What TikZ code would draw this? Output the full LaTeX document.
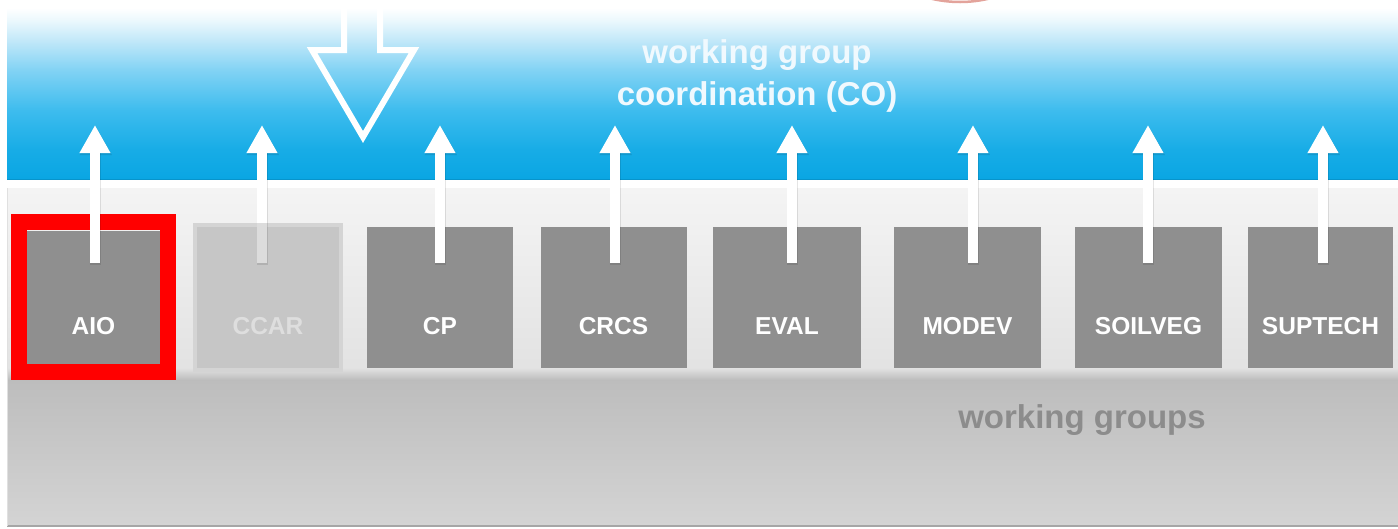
\documentclass[tikz,border=0pt]{standalone}
\usepackage{fontspec}
\setmainfont{Liberation Sans}
\usetikzlibrary{arrows.meta}
\definecolor{bA}{HTML}{0AA6E3}
\definecolor{bB}{HTML}{17ACE6}
\definecolor{bC}{HTML}{3DBCEE}
\definecolor{bD}{HTML}{80D2F4}
\definecolor{bE}{HTML}{C2E8F9}
\definecolor{bF}{HTML}{EBF8FD}
\definecolor{boxgrey}{HTML}{8F8F8F}
\definecolor{ccarfill}{HTML}{C6C6C6}
\definecolor{ccarline}{HTML}{D4D4D4}
\definecolor{ccartext}{HTML}{DEDEDE}
\definecolor{ccarshaft}{HTML}{DCDCDC}
\definecolor{lgtop}{HTML}{F4F4F4}
\definecolor{lgbot}{HTML}{E2E2E2}
\definecolor{dgtop}{HTML}{BCBCBC}
\definecolor{dgbot}{HTML}{D4D4D4}
\definecolor{wgtext}{HTML}{8C8C8C}
\definecolor{cotext}{HTML}{F0F9FE}
\definecolor{arcred}{HTML}{E3A39B}
\pgfdeclareverticalshading{bluefade}{100bp}{color(0bp)=(bA); color(25bp)=(bA); color(33bp)=(bB); color(44bp)=(bC); color(55bp)=(bD); color(63.5bp)=(bE); color(69bp)=(bF); color(72.5bp)=(white); color(100bp)=(white)}
\tikzset{
  wgbox/.style={fill=boxgrey, draw=none, minimum width=146pt, minimum height=141pt, inner sep=0pt},
  wglabel/.style={text=white, font=\bfseries\fontsize{24.5}{28}\selectfont, inner sep=0pt},
  uparrow/.style={draw=white, line width=10pt, -{Triangle[length=28pt,width=29pt]}},
  upshadow/.style={draw=black, opacity=0.10, line width=11pt, -{Triangle[length=29pt,width=30pt]}},
}
\begin{document}
\begin{tikzpicture}[x=1pt,y=-1pt]
\useasboundingbox (0,0) rectangle (1398,528);
\fill[white] (0,0) rectangle (1398,528);
% blue band
\shade[shading=bluefade] (7,-1) rectangle (1399,179);
\draw[color=bA!70!black, opacity=0.35, line width=1pt] (7,179) -- (1399,179);
% faint red arc at top
\begin{scope}
\clip (0,0) rectangle (1398,528);
\draw[arcred, line width=2.5pt] (960,-122) circle (124);
\end{scope}
% light grey band
\shade[top color=lgtop, bottom color=lgbot] (7,188) rectangle (1399,374);
% dark grey band
\shade[top color=dgtop, bottom color=dgbot] (7,374) rectangle (1399,526);
\shade[top color=lgbot, bottom color=dgtop] (7,368) rectangle (1399,380);
\draw[color=black!35, line width=1.5pt] (7,526) -- (1399,526);
\draw[color=black!12, line width=1.5pt] (7.5,188) -- (7.5,526);
% big down arrow (outline)
\draw[white, line width=6pt, line join=miter] (344,-10) -- (344,50) -- (312,50) -- (363,137) -- (414,50) -- (380,50) -- (380,-10);
% coordination text
\node[text=cotext, font=\bfseries\fontsize{33}{42}\selectfont, align=center, inner sep=0pt] (co) at (757,76) {working group\\coordination (CO)};
% working groups label
\node[text=wgtext, font=\bfseries\fontsize{33}{40}\selectfont, inner sep=0pt] (wg) at (1082,420) {working groups};
% boxes
\node[wgbox, minimum width=133pt, minimum height=133pt] (aio) at (93.5,297.5) {};
\node[wgbox, fill=ccarfill, draw=ccarline, line width=4pt, minimum width=146pt, minimum height=145pt] (ccar) at (268,297.5) {};
\node[wgbox] (cp) at (440,297.5) {};
\node[wgbox] (crcs) at (613.5,297.5) {};
\node[wgbox, minimum width=148pt] (eval) at (787,297.5) {};
\node[wgbox, minimum width=147pt] (modev) at (967.5,297.5) {};
\node[wgbox, minimum width=147pt] (soilveg) at (1148.5,297.5) {};
\node[wgbox, minimum width=145pt] (suptech) at (1320.5,297.5) {};
% labels
\node[wglabel] (aio-l) at ([yshift=-28.5pt]aio.center) {AIO};
\node[wglabel, text=ccartext] (ccar-l) at ([yshift=-28.5pt]ccar.center) {CCAR};
\node[wglabel] (cp-l) at ([yshift=-28.5pt]cp.center) {CP};
\node[wglabel] (crcs-l) at ([yshift=-28.5pt]crcs.center) {CRCS};
\node[wglabel] (eval-l) at ([yshift=-28.5pt]eval.center) {EVAL};
\node[wglabel] (modev-l) at ([yshift=-28.5pt]modev.center) {MODEV};
\node[wglabel] (soilveg-l) at ([yshift=-28.5pt]soilveg.center) {SOILVEG};
\node[wglabel] (suptech-l) at ([yshift=-28.5pt]suptech.center) {SUPTECH};
% selection frame
\node[draw=red, line width=16pt, minimum width=149pt, minimum height=150pt, inner sep=0pt] (sel) at (93.5,297) {};
% arrow end points
\foreach \n/\x in {aio/95, ccar/262, cp/440, crcs/615, eval/792, modev/973, soilveg/1148, suptech/1323} {
  \coordinate (\n-s) at (\x,263);
  \coordinate (\n-t) at (\x,125);
  \coordinate (\n-ss) at (\x+0.8,265);
  \coordinate (\n-ts) at (\x+0.8,126);
}
% arrows
\foreach \n in {aio, ccar, cp, crcs, eval, modev, soilveg, suptech} {
  \draw[upshadow] (\n-ss) -- (\n-ts);
  \draw[uparrow] (\n-s) -- (\n-t);
}
\draw[ccarshaft, line width=10pt] (ccar-s) -- (ccar-s |- ccar.north);
\end{tikzpicture}
\end{document}
